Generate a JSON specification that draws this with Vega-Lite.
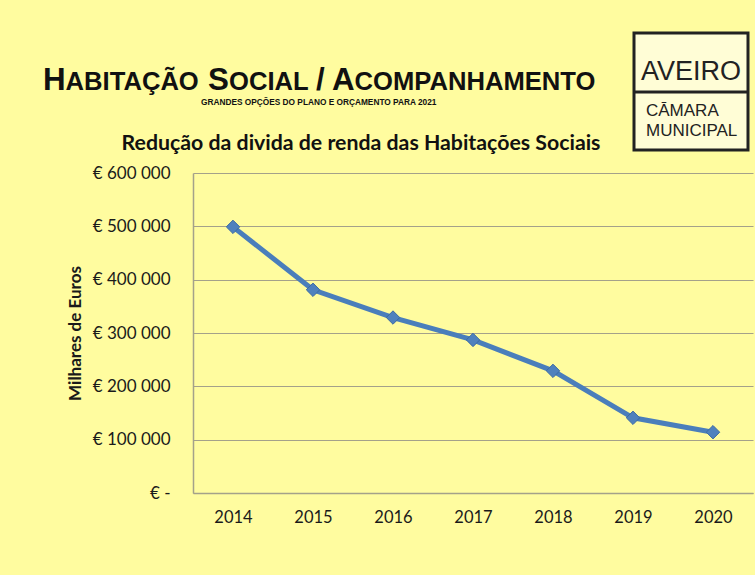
{
  "$schema": "https://vega.github.io/schema/vega-lite/v6.json",
  "autosize": {"type": "none"},
  "padding": {"left": 193, "top": 173, "right": 2, "bottom": 82},
  "width": 560,
  "height": 320,
  "background": "#FFFC9F",
  "config": {
    "view": {"stroke": null},
    "font": "Lato"
  },
  "data": {
    "values": [
      {"ano": "2014", "valor": 499000},
      {"ano": "2015", "valor": 381000},
      {"ano": "2016", "valor": 329000},
      {"ano": "2017", "valor": 287000},
      {"ano": "2018", "valor": 229000},
      {"ano": "2019", "valor": 141000},
      {"ano": "2020", "valor": 114000}
    ]
  },
  "layer": [
    {
      "mark": {"type": "line", "color": "#4A7EBB", "strokeWidth": 5},
      "encoding": {
        "x": {
          "field": "ano", "type": "ordinal",
          "scale": {"type": "point", "padding": 0.5},
          "axis": {
            "title": null, "labelAngle": 0, "labelFont": "Lato", "labelFontSize": 16.5,
            "labelColor": "#1a1a1a", "labelPadding": 16, "ticks": false,
            "domainColor": "#A4A18A", "domainWidth": 1.5, "grid": false
          }
        },
        "y": {
          "field": "valor", "type": "quantitative",
          "scale": {"domain": [0, 600000], "nice": false},
          "axis": {
            "title": "Milhares de Euros", "titleFont": "Lato", "titleFontSize": 17,
            "titleFontWeight": "bold", "titleColor": "#1a1a1a", "titlePadding": 8,
            "values": [0, 100000, 200000, 300000, 400000, 500000, 600000],
            "labelExpr": "datum.value === 0 ? '€ -' : '€ ' + floor(datum.value/1000) + ' 000'",
            "labelFont": "Lato", "labelFontSize": 17, "labelColor": "#1a1a1a",
            "labelPadding": 23, "ticks": false,
            "domainColor": "#A4A18A", "domainWidth": 1.5,
            "grid": true, "gridColor": "#A4A18A", "gridWidth": 1.2
          }
        }
      }
    },
    {
      "mark": {"type": "point", "shape": "diamond", "filled": true, "size": 180, "color": "#4F81BD", "stroke": "#3B6AA3", "strokeWidth": 1, "opacity": 1},
      "encoding": {
        "x": {"field": "ano", "type": "ordinal"},
        "y": {"field": "valor", "type": "quantitative"}
      }
    },
    {
      "data": {"values": [{}]},
      "layer": [
        {"mark": {"type": "text", "text": "Redução da divida de renda das Habitações Sociais", "font": "Lato", "fontSize": 21.3, "fontWeight": "bold", "color": "#111111", "align": "center", "baseline": "alphabetic"},
         "encoding": {"x": {"value": 168}, "y": {"value": -23}}},
        {"mark": {"type": "text", "text": "H", "font": "Liberation Sans", "fontSize": 31.3, "fontWeight": "bold", "color": "#111111", "align": "left", "baseline": "alphabetic"},
         "encoding": {"x": {"value": -150}, "y": {"value": -83.5}}},
        {"mark": {"type": "text", "text": "ABITAÇÃO", "font": "Liberation Sans", "fontSize": 25.6, "fontWeight": "bold", "color": "#111111", "align": "left", "baseline": "alphabetic"},
         "encoding": {"x": {"value": -127.4}, "y": {"value": -83.5}}},
        {"mark": {"type": "text", "text": "S", "font": "Liberation Sans", "fontSize": 31.3, "fontWeight": "bold", "color": "#111111", "align": "left", "baseline": "alphabetic"},
         "encoding": {"x": {"value": 15}, "y": {"value": -83.5}}},
        {"mark": {"type": "text", "text": "OCIAL", "font": "Liberation Sans", "fontSize": 25.6, "fontWeight": "bold", "color": "#111111", "align": "left", "baseline": "alphabetic"},
         "encoding": {"x": {"value": 36}, "y": {"value": -83.5}}},
        {"mark": {"type": "text", "text": "/", "font": "Liberation Sans", "fontSize": 31.3, "fontWeight": "bold", "color": "#111111", "align": "left", "baseline": "alphabetic"},
         "encoding": {"x": {"value": 123}, "y": {"value": -83.5}}},
        {"mark": {"type": "text", "text": "A", "font": "Liberation Sans", "fontSize": 31.3, "fontWeight": "bold", "color": "#111111", "align": "left", "baseline": "alphabetic"},
         "encoding": {"x": {"value": 139}, "y": {"value": -83.5}}},
        {"mark": {"type": "text", "text": "COMPANHAMENTO", "font": "Liberation Sans", "fontSize": 25.6, "fontWeight": "bold", "color": "#111111", "align": "left", "baseline": "alphabetic"},
         "encoding": {"x": {"value": 161.6}, "y": {"value": -83.5}}},
        {"mark": {"type": "text", "text": "GRANDES OPÇÕES DO PLANO E ORÇAMENTO PARA 2021", "font": "Liberation Sans", "fontSize": 8.3, "fontWeight": "bold", "color": "#111111", "align": "left", "baseline": "alphabetic"},
         "encoding": {"x": {"value": 8}, "y": {"value": -68}}},
        {"mark": {"type": "rect", "fill": "#FFFDD6", "stroke": "#222222", "strokeWidth": 3},
         "encoding": {"x": {"value": 441}, "x2": {"value": 555}, "y": {"value": -140}, "y2": {"value": -23}}},
        {"mark": {"type": "rule", "color": "#222222", "strokeWidth": 3},
         "encoding": {"x": {"value": 441}, "x2": {"value": 555}, "y": {"value": -81}}},
        {"mark": {"type": "text", "text": "AVEIRO", "font": "Liberation Sans", "fontSize": 27, "color": "#222222", "align": "center", "baseline": "alphabetic"},
         "encoding": {"x": {"value": 498}, "y": {"value": -93}}},
        {"mark": {"type": "text", "text": "CĀMARA", "font": "Liberation Sans", "fontSize": 17, "color": "#222222", "align": "left", "baseline": "alphabetic"},
         "encoding": {"x": {"value": 453}, "y": {"value": -57}}},
        {"mark": {"type": "text", "text": "MUNICIPAL", "font": "Liberation Sans", "fontSize": 17, "color": "#222222", "align": "left", "baseline": "alphabetic"},
         "encoding": {"x": {"value": 453}, "y": {"value": -37}}}
      ]
    }
  ]
}
